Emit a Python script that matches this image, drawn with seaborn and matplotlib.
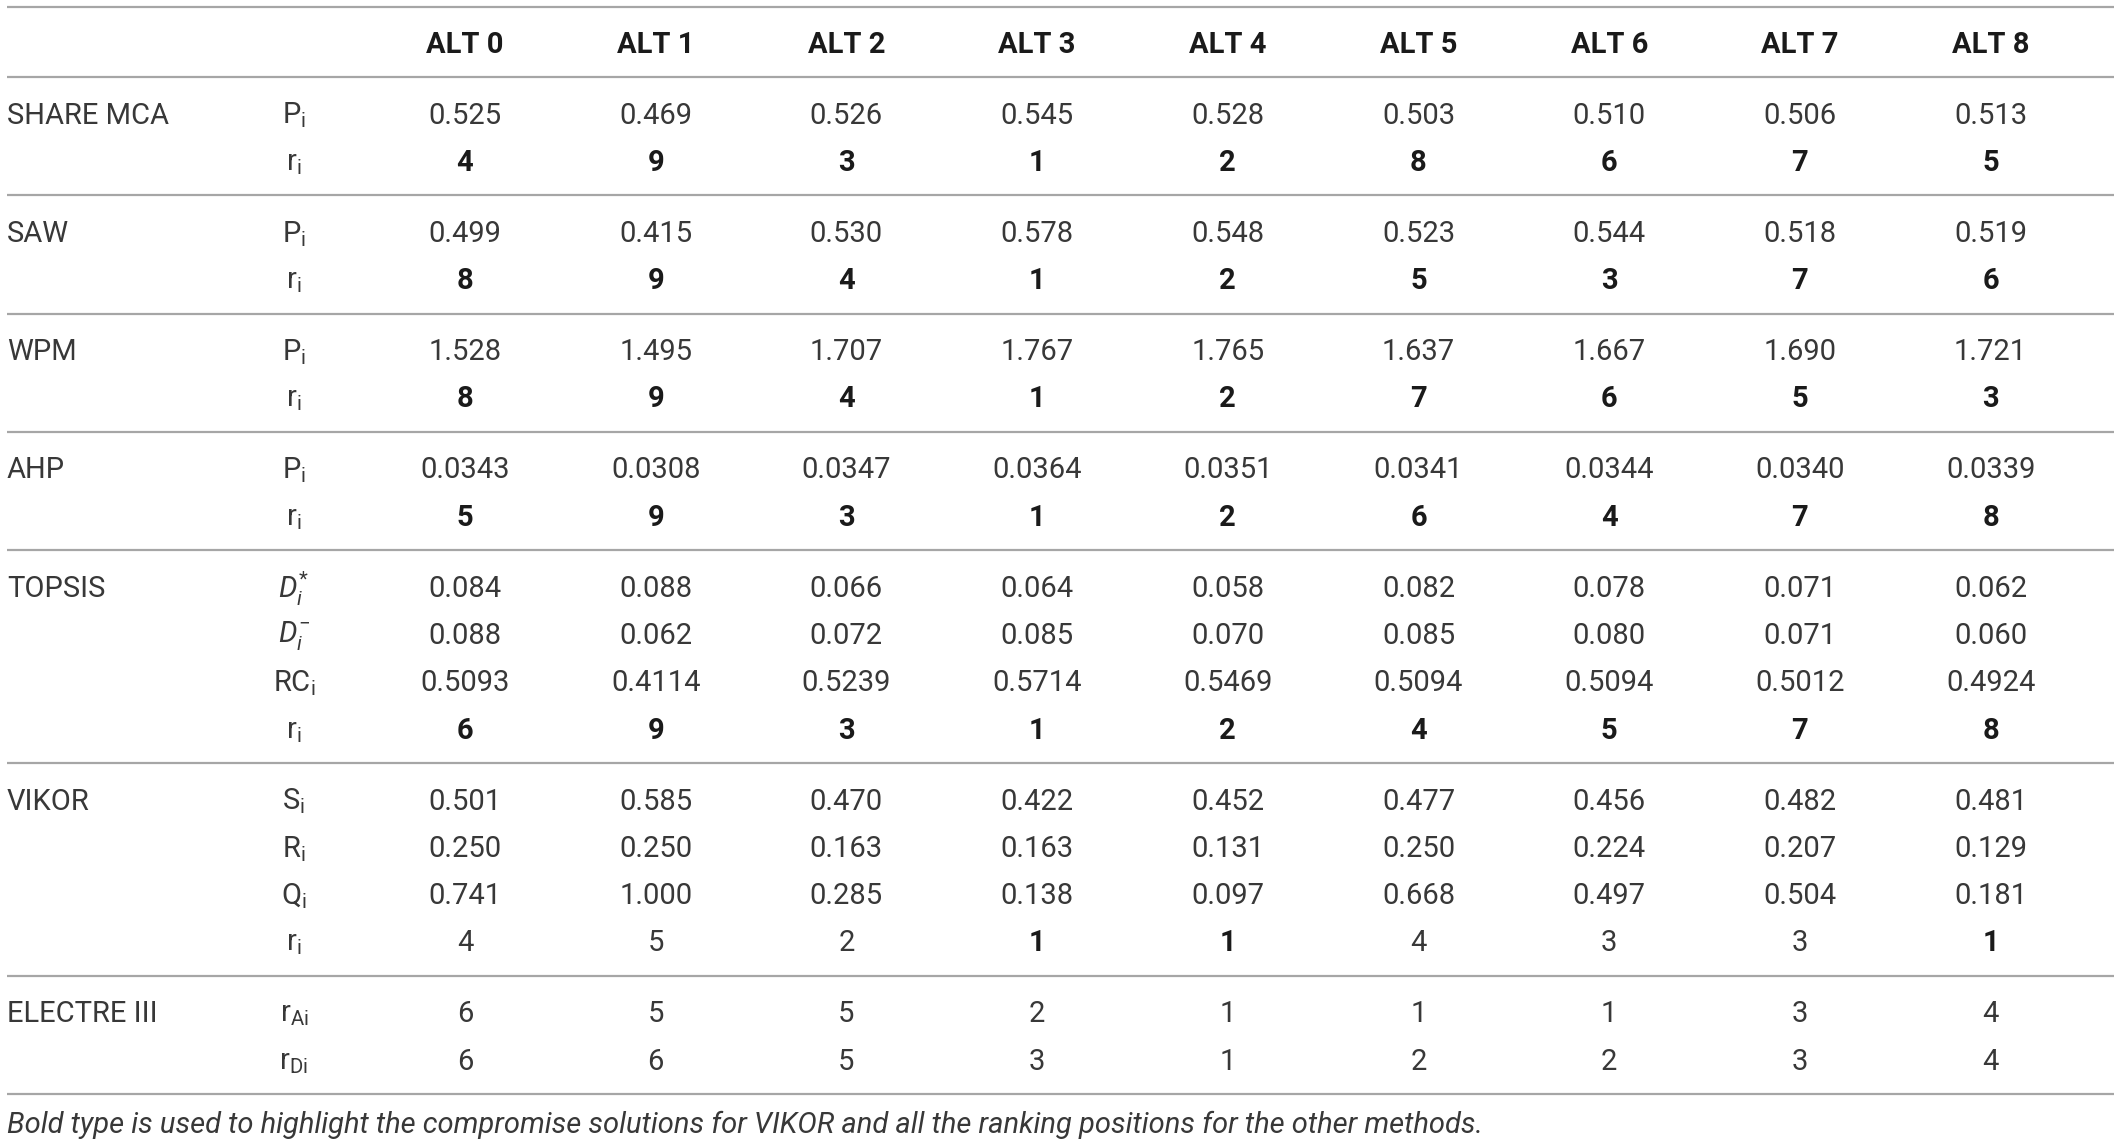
"""
Tabela de resultados MCDA (ALT 0..8) desenhada como figura.
"""
import matplotlib.pyplot as plt
import seaborn as sns

ALTS = [f"ALT {k}" for k in range(9)]

share_p = ["0.525", "0.469", "0.526", "0.545", "0.528", "0.503", "0.510", "0.506", "0.513"]
share_r = ["4", "9", "3", "1", "2", "8", "6", "7", "5"]
saw_p = ["0.499", "0.415", "0.530", "0.578", "0.548", "0.523", "0.544", "0.518", "0.519"]
saw_r = ["8", "9", "4", "1", "2", "5", "3", "7", "6"]
wpm_p = ["1.528", "1.495", "1.707", "1.767", "1.765", "1.637", "1.667", "1.690", "1.721"]
wpm_r = ["8", "9", "4", "1", "2", "7", "6", "5", "3"]
ahp_p = ["0.0343", "0.0308", "0.0347", "0.0364", "0.0351", "0.0341", "0.0344", "0.0340", "0.0339"]
ahp_r = ["5", "9", "3", "1", "2", "6", "4", "7", "8"]
topsis_dplus = ["0.084", "0.088", "0.066", "0.064", "0.058", "0.082", "0.078", "0.071", "0.062"]
topsis_dminus = ["0.088", "0.062", "0.072", "0.085", "0.070", "0.085", "0.080", "0.071", "0.060"]
topsis_rc = ["0.5093", "0.4114", "0.5239", "0.5714", "0.5469", "0.5094", "0.5094", "0.5012", "0.4924"]
topsis_r = ["6", "9", "3", "1", "2", "4", "5", "7", "8"]
vikor_s = ["0.501", "0.585", "0.470", "0.422", "0.452", "0.477", "0.456", "0.482", "0.481"]
vikor_rr = ["0.250", "0.250", "0.163", "0.163", "0.131", "0.250", "0.224", "0.207", "0.129"]
vikor_q = ["0.741", "1.000", "0.285", "0.138", "0.097", "0.668", "0.497", "0.504", "0.181"]
vikor_r = ["4", "5", "2", "1", "1", "4", "3", "3", "1"]
electre_a = ["6", "5", "5", "2", "1", "1", "1", "3", "4"]
electre_d = ["6", "6", "5", "3", "1", "2", "2", "3", "4"]

CAPTION = ("Bold type is used to highlight the compromise solutions for VIKOR "
           "and all the ranking positions for the other methods.")

# (rótulo da linha, valores, regra de negrito)
GROUPS = [
    ("SHARE MCA", [(r"P$_\mathregular{i}$", share_p, None), (r"r$_\mathregular{i}$", share_r, "all")]),
    ("SAW", [(r"P$_\mathregular{i}$", saw_p, None), (r"r$_\mathregular{i}$", saw_r, "all")]),
    ("WPM", [(r"P$_\mathregular{i}$", wpm_p, None), (r"r$_\mathregular{i}$", wpm_r, "all")]),
    ("AHP", [(r"P$_\mathregular{i}$", ahp_p, None), (r"r$_\mathregular{i}$", ahp_r, "all")]),
    ("TOPSIS", [(r"$D_i^{*}$", topsis_dplus, None), (r"$D_i^{-}$", topsis_dminus, None),
                (r"RC$_\mathregular{i}$", topsis_rc, None), (r"r$_\mathregular{i}$", topsis_r, "all")]),
    ("VIKOR", [(r"S$_\mathregular{i}$", vikor_s, None), (r"R$_\mathregular{i}$", vikor_rr, None),
               (r"Q$_\mathregular{i}$", vikor_q, None), (r"r$_\mathregular{i}$", vikor_r, "ones")]),
    ("ELECTRE III", [(r"r$_\mathregular{Ai}$", electre_a, None), (r"r$_\mathregular{Di}$", electre_d, None)]),
]

# layout (pixels na vertical, índice de coluna na horizontal)
W, H = 2118, 1144
COL0, PITCH = 465, 190.7
ROW_STEP, PAD = 47.3, 35.5
TOP_LINE, HEADER_LINE = 7, 77
TEXT_SHIFT = 3
LINE_COLOR = "#a6a6a6"
TEXT_COLOR = "#383838"
BOLD_COLOR = "#1a1a1a"
FS = 21


def px_to_col(px):
    return (px - COL0) / PITCH


def main():
    sns.set_theme(style="white")
    plt.rcParams["font.family"] = ["Roboto", "DejaVu Sans"]
    plt.rcParams["mathtext.fontset"] = "custom"
    plt.rcParams["mathtext.rm"] = "Roboto"
    plt.rcParams["mathtext.it"] = "Roboto:italic"
    plt.rcParams["mathtext.bf"] = "Roboto:bold"

    fig = plt.figure(figsize=(W / 100, H / 100), dpi=100)
    ax = fig.add_axes([0, 0, 1, 1])
    ax.set_xlim(px_to_col(0), px_to_col(W))
    ax.set_ylim(H, 0)
    ax.axis("off")

    x_left, x_right = px_to_col(7), px_to_col(2114)
    x_sub = px_to_col(294)
    line_kw = dict(color=LINE_COLOR, lw=1.6)

    ax.hlines([TOP_LINE, HEADER_LINE], x_left, x_right, **line_kw)
    header_y = (TOP_LINE + HEADER_LINE) / 2 + TEXT_SHIFT
    for k, name in enumerate(ALTS):
        ax.text(k, header_y, name, ha="center", va="center", fontsize=FS,
                fontweight="bold", color=BOLD_COLOR)

    y_sep = HEADER_LINE
    for label, rows in GROUPS:
        y = y_sep + PAD
        ax.text(x_left, y + TEXT_SHIFT, label, ha="left", va="center", fontsize=FS,
                color=TEXT_COLOR)
        for sub, values, bold in rows:
            ax.text(x_sub, y + TEXT_SHIFT, sub, ha="center", va="center", fontsize=FS,
                    color=TEXT_COLOR)
            for k, v in enumerate(values):
                is_bold = bold == "all" or (bold == "ones" and v == "1")
                ax.text(k, y + TEXT_SHIFT, v, ha="center", va="center", fontsize=FS,
                        fontweight="bold" if is_bold else "normal",
                        color=BOLD_COLOR if is_bold else TEXT_COLOR)
            y += ROW_STEP
        y_sep = y - ROW_STEP + PAD
        ax.hlines(y_sep, x_left, x_right, **line_kw)

    ax.text(x_left, y_sep + 28 + TEXT_SHIFT, CAPTION, ha="left", va="center", fontsize=21,
            style="italic", color=TEXT_COLOR)

    fig.savefig("out.png", dpi=100)
    plt.close(fig)


if __name__ == "__main__":
    main()
